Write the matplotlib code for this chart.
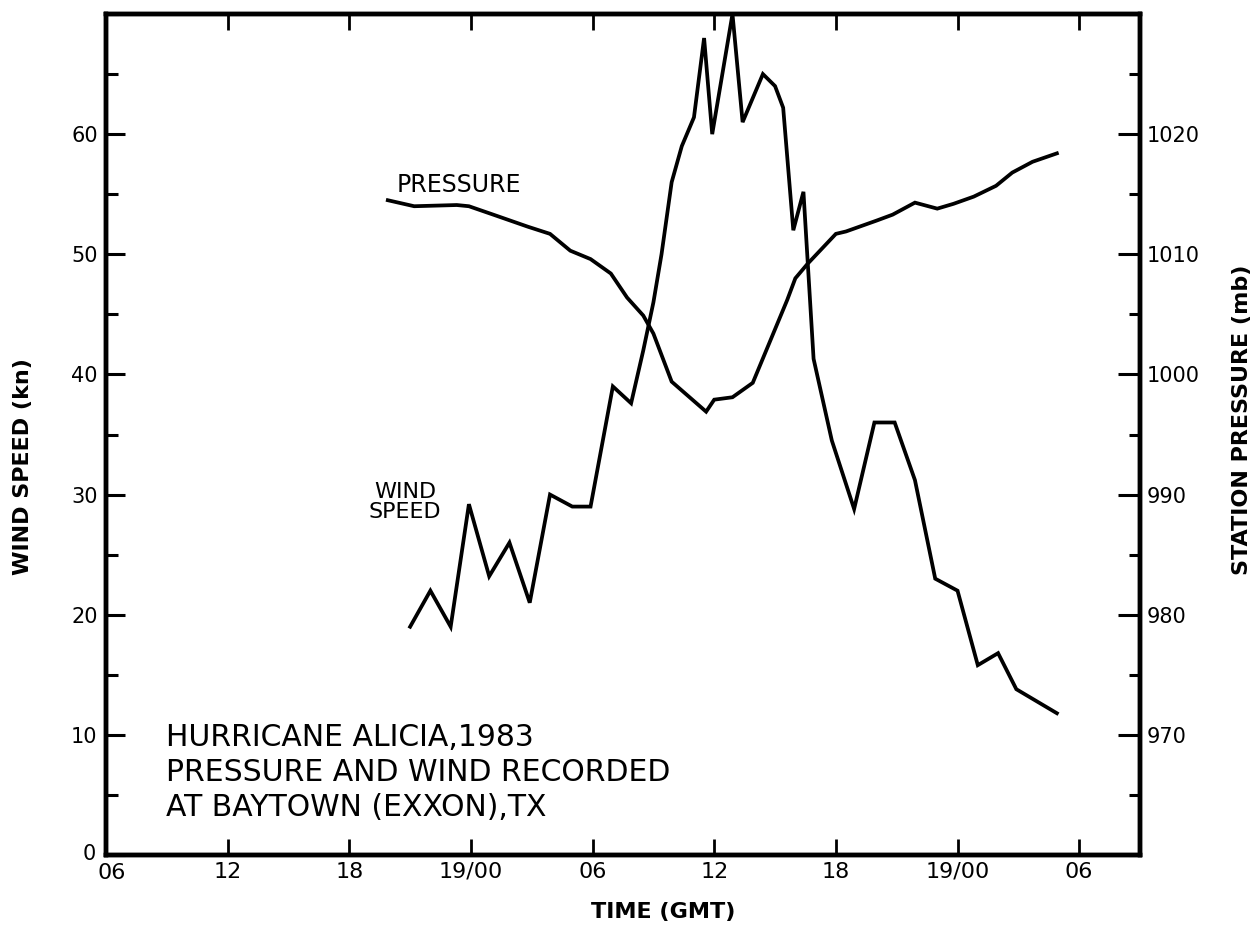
import matplotlib
matplotlib.use("Agg")
import matplotlib.pyplot as plt
from matplotlib.ticker import MultipleLocator, FixedLocator
from matplotlib.transforms import ScaledTranslation

# ---- data (hours after 18 Aug 06 GMT) ----
wind_t = [15.0, 16.0, 17.0, 17.9, 18.9, 19.9, 20.9, 21.9, 23.0, 23.9, 25.0, 25.9,
          26.5, 27.0, 27.4, 27.9, 28.4, 29.0, 29.5, 29.9, 30.9, 31.4, 32.4, 33.0,
          33.4, 33.9, 34.4, 34.9, 35.8, 36.9, 37.9, 38.9, 39.9, 40.9, 42.0, 43.0,
          44.0, 44.9, 45.9, 46.9]
wind_kn = [19, 22, 19, 29.2, 23.2, 26, 21, 30, 29, 29, 39, 37.6,
           42, 46, 50, 56, 59, 61.4, 68, 60, 70, 61, 65, 64,
           62.2, 52, 55.2, 41.3, 34.5, 28.8, 36, 36, 31.2, 23, 22, 15.8,
           16.8, 13.8, 12.8, 11.8]

pres_t = [13.9, 15.2, 17.3, 17.9, 19.1, 20.8, 21.9, 22.9, 23.9, 24.9, 25.7, 26.5,
          27.0, 27.9, 29.6, 30.0, 30.9, 31.9, 33.6, 34.0, 34.6, 36.0, 36.5, 38.0,
          38.8, 39.9, 41.0, 41.8, 42.8, 43.9, 44.7, 45.7, 46.9]
pres_mb = [1014.5, 1014.0, 1014.1, 1014.0, 1013.3, 1012.3, 1011.7, 1010.3, 1009.6,
           1008.4, 1006.4, 1004.9, 1003.4, 999.4, 996.9, 997.9, 998.1, 999.3,
           1006.2, 1008.0, 1009.2, 1011.7, 1011.9, 1012.8, 1013.3, 1014.3, 1013.8,
           1014.2, 1014.8, 1015.7, 1016.8, 1017.7, 1018.4]

x_ticks = [0, 6, 12, 18, 24, 30, 36, 42, 48]
x_labels = ["06", "12", "18", "19/00", "06", "12", "18", "19/00", "06"]
wind_ticks = [0, 10, 20, 30, 40, 50, 60]
pres_ticks = [970, 980, 990, 1000, 1010, 1020]

title_lines = ["HURRICANE ALICIA,1983",
               "PRESSURE AND WIND RECORDED",
               "AT BAYTOWN (EXXON),TX"]

plt.rcParams['font.family'] = ['DejaVu Sans']

W, H = 1255, 932
fig = plt.figure(figsize=(W / 100, H / 100), dpi=100)
ax = fig.add_axes([106 / W, 1 - 855 / H, (1140 - 106) / W, (855 - 14) / H])
ax2 = ax.twinx()

lw = 2.7
ax.plot(wind_t, wind_kn, color='black', lw=lw, solid_joinstyle='miter', clip_on=False)
ax2.plot(pres_t, pres_mb, color='black', lw=lw, solid_joinstyle='miter')

ax.set_xlim(0, 51)
ax.set_ylim(0, 70)
ax2.set_ylim(960, 1030)

for a in (ax, ax2):
    for s in a.spines.values():
        s.set_linewidth(3.2)

ax.xaxis.set_major_locator(FixedLocator(x_ticks))
ax.set_xticklabels(x_labels, fontsize=16)
ax.tick_params(axis='x', which='major', direction='in', top=True, bottom=True,
               length=11.5, width=2, pad=5)

ax.yaxis.set_major_locator(FixedLocator(wind_ticks))
ax.yaxis.set_minor_locator(MultipleLocator(5))
ax.tick_params(axis='y', which='major', direction='in', length=14, width=2.2,
               labelsize=15, pad=6)
ax.tick_params(axis='y', which='minor', direction='in', length=8.5, width=2.2)

ax2.yaxis.set_major_locator(FixedLocator(pres_ticks))
ax2.yaxis.set_minor_locator(MultipleLocator(5))
ax2.tick_params(axis='y', which='major', direction='in', length=16, width=2.2,
                labelsize=15, pad=5)
ax2.tick_params(axis='y', which='minor', direction='in', length=8, width=2.2)

# nudge the corner labels apart ("0" up, first "06" right) as in the reference
xt0 = ax.xaxis.get_major_ticks()[0].label1
xt0.set_transform(xt0.get_transform() + ScaledTranslation(0.06, -0.01, fig.dpi_scale_trans))
yt0 = ax.yaxis.get_major_ticks()[0].label1
yt0.set_transform(yt0.get_transform() + ScaledTranslation(-0.02, 0.03, fig.dpi_scale_trans))

# axis labels
fig.text(23 / W, 1 - 467 / H, "WIND SPEED (kn)", rotation=90, fontsize=16,
         fontweight='bold', ha='center', va='center')
fig.text(1242 / W, 1 - 420 / H, "STATION PRESSURE (mb)", rotation=90, fontsize=16,
         fontweight='bold', ha='center', va='center')
fig.text(663 / W, 1 - 912 / H, "TIME (GMT)", fontsize=16, fontweight='bold',
         ha='center', va='center')

# annotations
fig.text(459 / W, 1 - 185 / H, "PRESSURE", fontsize=17, ha='center', va='center')
fig.text(405 / W, 1 - 502 / H, "WIND\nSPEED", fontsize=16, ha='center', va='center',
         linespacing=1.05)

for i, line in enumerate(title_lines):
    fig.text(166 / W, 1 - (737 + 35.5 * i) / H, line, fontsize=21.5, ha='left',
             va='center')

fig.savefig("out.png", dpi=100)
